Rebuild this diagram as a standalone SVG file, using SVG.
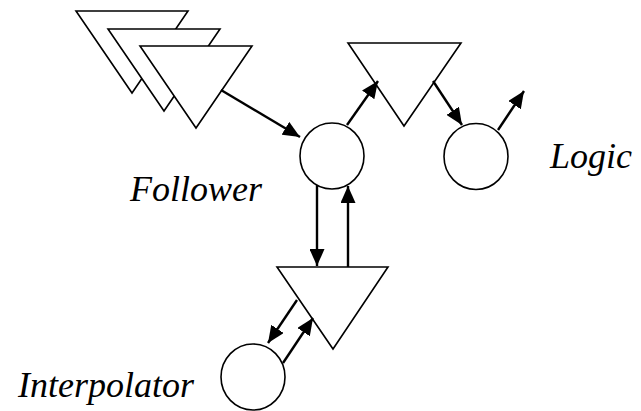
<svg xmlns="http://www.w3.org/2000/svg" width="641" height="411" viewBox="0 0 641 411">
<style>
.shape{fill:#fff;stroke:#000;stroke-width:1.6}
.conn{stroke:#000;stroke-width:2.4;fill:none;marker-end:url(#ah)}
.lbl{font-family:"Liberation Serif","Times New Roman",serif;font-style:italic;font-size:36px;fill:#000}
</style>
<defs>
<marker id="ah" viewBox="0 0 17 15" markerUnits="userSpaceOnUse" markerWidth="17" markerHeight="15" refX="17" refY="7.5" orient="auto">
<path d="M0,0 L17,7.5 L0,15 Z" fill="#000"/>
</marker>
</defs>
<rect width="641" height="411" fill="#fff"/>
<g id="sources">
<polygon class="shape" points="76,11 188,11 132,93"/>
<polygon class="shape" points="108,29 220,29 164,111"/>
<polygon class="shape" points="140,46 252,46 196,128"/>
</g>
<g id="follower">
<ellipse class="shape" cx="332" cy="156" rx="32" ry="33"/>
<text class="lbl" x="130" y="201">Follower</text>
</g>
<g id="top-triangle">
<polygon class="shape" points="348,43 461,43 404,126"/>
</g>
<g id="logic">
<ellipse class="shape" cx="476" cy="156.5" rx="32" ry="33"/>
<text class="lbl" x="550" y="168">Logic</text>
</g>
<g id="bottom-triangle">
<polygon class="shape" points="277,267 388,267 333,349"/>
</g>
<g id="interpolator">
<ellipse class="shape" cx="253" cy="377" rx="32" ry="33"/>
<text class="lbl" x="18" y="397">Interpolator</text>
</g>
<g id="connectors">
<line class="conn" x1="221" y1="90" x2="300" y2="137"/>
<line class="conn" x1="347" y1="125" x2="378" y2="81"/>
<line class="conn" x1="433" y1="81" x2="462" y2="125"/>
<line class="conn" x1="498" y1="130" x2="524" y2="91"/>
<line class="conn" x1="317" y1="185" x2="317" y2="266"/>
<line class="conn" x1="348" y1="267" x2="348" y2="186"/>
<line class="conn" x1="297" y1="300" x2="268" y2="343"/>
<line class="conn" x1="283" y1="363" x2="313" y2="318"/>
</g>
</svg>
